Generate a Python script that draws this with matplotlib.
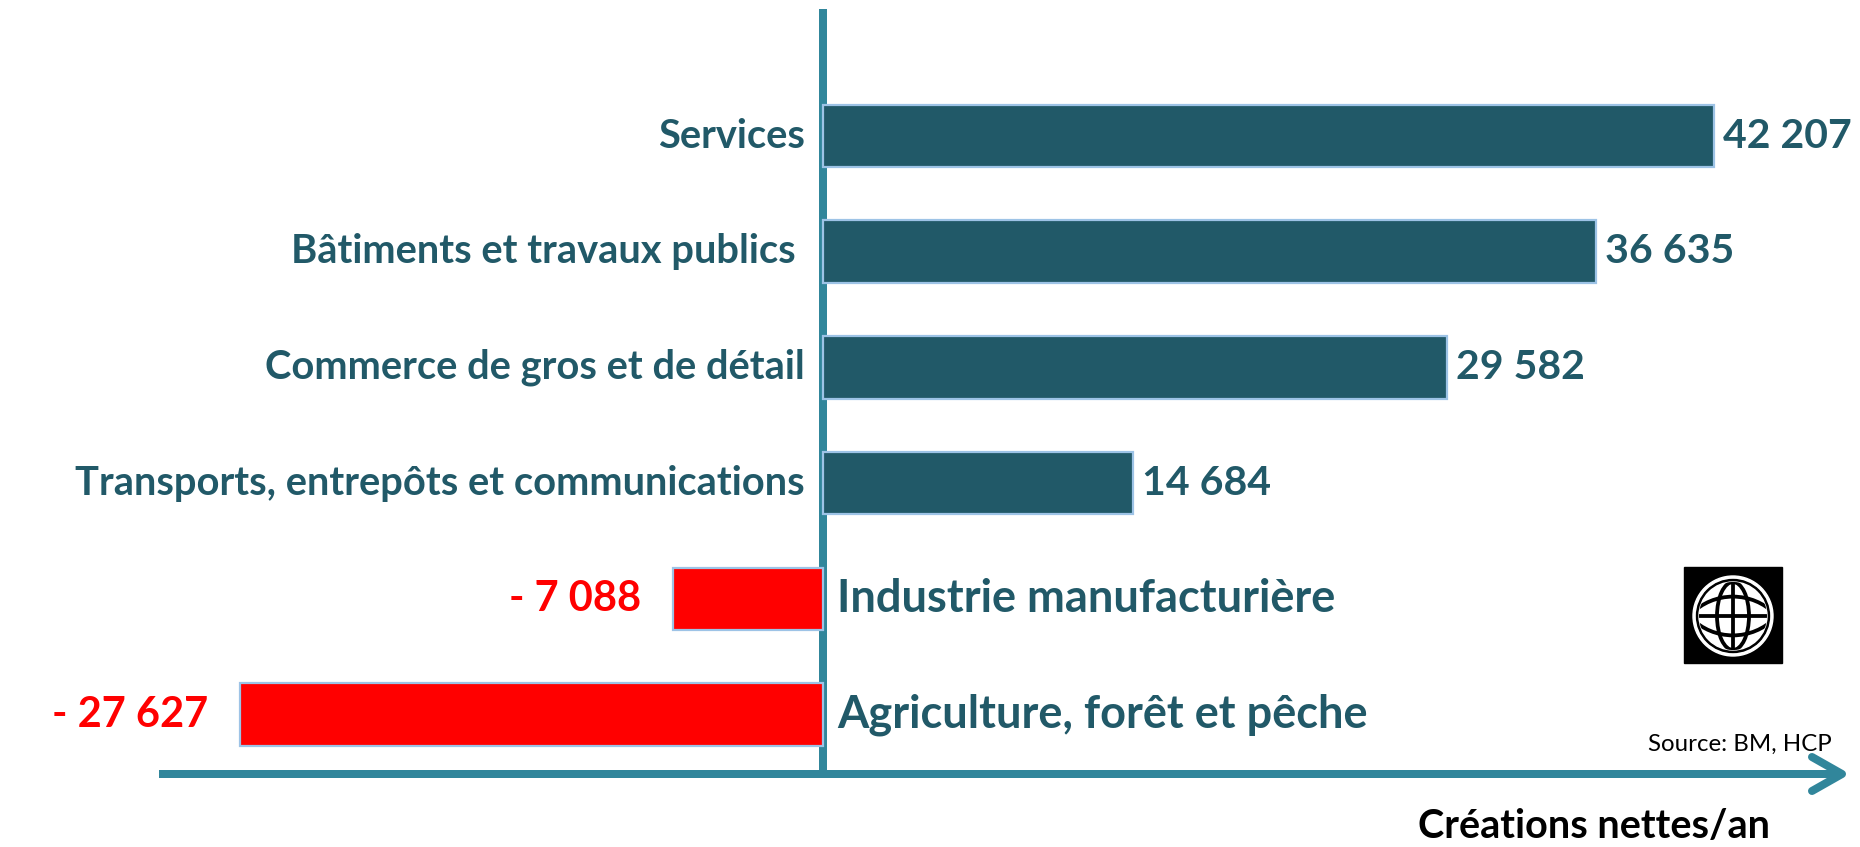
#!/usr/bin/env python3
"""Net job creation per year by sector (bar chart with a zero axis and arrow)."""
import numpy as np
import matplotlib
matplotlib.use("Agg")
import matplotlib.pyplot as plt
from matplotlib.patches import Rectangle, Circle, Ellipse

# --- data -------------------------------------------------------------------
categories = [
    "Services",
    "Bâtiments et travaux publics ",
    "Commerce de gros et de détail",
    "Transports, entrepôts et communications",
    "Industrie manufacturière",
    "Agriculture, forêt et pêche",
]
values = [42207, 36635, 29582, 14684, -7088, -27627]
value_labels = ["42 207", "36 635", "29 582", "14 684", "- 7 088", "- 27 627"]
x_title = "Créations nettes/an"
source = "Source: BM, HCP"

# --- style ------------------------------------------------------------------
TEAL_DARK = "#215968"
TEAL_LINE = "#31869B"
EDGE = "#9DC3E6"
RED = "#FF0000"
FONT = "Lato"

W, H, DPI = 1860, 847, 100
PX = 72 / DPI  # points per pixel

fig = plt.figure(figsize=(W / DPI, H / DPI), dpi=DPI)

# layout of the plotting area (pixels)
zero_px = 823
px_per_unit = 0.0211
row_px = 115.7
first_row_px = 136

ax = fig.add_axes([0, 0, 1, 1])
ax.set_xlim(-zero_px / px_per_unit, (W - zero_px) / px_per_unit)
ax.set_ylim((H - first_row_px) / row_px, -first_row_px / row_px)
ax.axis("off")

y = np.arange(len(categories))
colors = [TEAL_DARK if v >= 0 else RED for v in values]
ax.barh(y, values, height=0.54, color=colors, edgecolor=EDGE, linewidth=1.6, zorder=3)

# zero axis (vertical line)
ax.axvline(0, ymin=1 - 769 / H, ymax=1 - 13 / H, color=TEAL_LINE, lw=8 * PX, zorder=2)

for yi, cat, v, lab in zip(y, categories, values, value_labels):
    if v >= 0:
        ax.annotate(cat, (0, yi), xytext=(-18 * PX, 0), textcoords="offset points",
                    ha="right", va="center", fontsize=28.7, fontweight="bold",
                    color=TEAL_DARK, family=FONT)
        ax.annotate(lab, (v, yi), xytext=(9 * PX, 0), textcoords="offset points",
                    ha="left", va="center", fontsize=29.5, fontweight="bold",
                    color=TEAL_DARK, family=FONT)
    else:
        ax.annotate(cat, (0, yi), xytext=(14 * PX, 0), textcoords="offset points",
                    ha="left", va="center", fontsize=32.5, fontweight="bold",
                    color=TEAL_DARK, family=FONT)
        ax.annotate(lab, (v, yi), xytext=(-32 * PX, 0), textcoords="offset points",
                    ha="right", va="center", fontsize=30, fontweight="bold",
                    color=RED, family=FONT)

# --- decorations in pixel coordinates -------------------------------------
deco = fig.add_axes([0, 0, 1, 1], zorder=-1)
deco.set_xlim(0, W)
deco.set_ylim(H, 0)
deco.axis("off")

# horizontal arrow
deco.plot([159, 1838], [774, 774], color=TEAL_LINE, lw=8 * PX, solid_capstyle="butt")
deco.plot([1812, 1842, 1812], [757, 774, 791], color=TEAL_LINE, lw=8 * PX,
          solid_capstyle="round", solid_joinstyle="round")

deco.text(1832, 744, source, ha="right", va="center", fontsize=17.3, color="black",
          family=FONT)
deco.text(1594, 826, x_title, ha="center", va="center", fontsize=28.5,
          fontweight="bold", color="black", family=FONT)

# World Bank logo
logo = fig.add_axes([0, 0, 1, 1], zorder=5)
logo.set_xlim(0, W)
logo.set_ylim(H, 0)
logo.axis("off")
cx, cy, R = 1733, 616, 34
logo.add_patch(Rectangle((1684, 567), 98, 96, color="black"))
logo.add_patch(Circle((cx, cy), 40, color="white"))
logo.add_patch(Circle((cx, cy), 36.5, color="black"))
disc = Circle((cx, cy), R, color="white")
logo.add_patch(disc)
grid_lw = 3.8 * PX
grid = [
    Ellipse((cx, cy), 32, 2 * R, fill=False, ec="black", lw=grid_lw),
    Circle((cx, cy + 1.175 * R), 1.745 * R, fill=False, ec="black", lw=grid_lw),
    Circle((cx, cy - 1.175 * R), 1.745 * R, fill=False, ec="black", lw=grid_lw),
]
for g in grid:
    logo.add_patch(g)
    g.set_clip_path(disc)
for xs, ys in [([cx, cx], [cy - R, cy + R]), ([cx - R, cx + R], [cy, cy])]:
    ln, = logo.plot(xs, ys, color="black", lw=grid_lw)
    ln.set_clip_path(disc)

fig.savefig("out.png", dpi=DPI, facecolor="white")
